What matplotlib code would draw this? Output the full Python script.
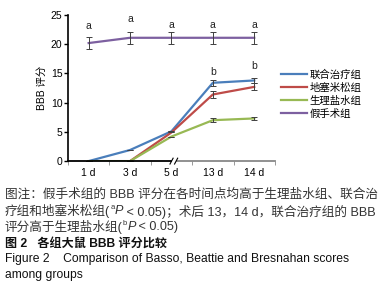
import numpy as np
import matplotlib
matplotlib.use('Agg')
import matplotlib.pyplot as plt

plt.rcParams['font.family'] = ['Liberation Sans', 'Noto Sans CJK SC']

days = ['1 d', '3 d', '5 d', '13 d', '14 d']
groups = ['联合治疗组', '地塞米松组', '生理盐水组', '假手术组']
colors = ['#4a7ebb', '#be4b48', '#98b954', '#7d60a0']

combined = [0, 1.9, 5.1, 13.4, 13.8]
dex = [0, 0, 4.9, 11.4, 12.7]
saline = [0, 0, 4.2, 7.0, 7.3]
sham = [20.2, 21.1, 21.1, 21.1, 21.1]
combined_err = [0, 0, 0, 0.5, 0.5]
dex_err = [0, 0, 0, 0.6, 0.6]
saline_err = [0, 0, 0, 0.3, 0.3]
sham_err = [1.0, 1.0, 1.0, 1.0, 1.0]

a_marks_y = [23.1, 24.3, 23.3, 23.3, 23.3]
b_marks_y = [None, None, None, 15.3, 16.3]

fig = plt.figure(figsize=(3.84, 3.0), dpi=100)
ax = fig.add_axes([0.177, 0.463, 0.539, 0.487])

x = np.arange(len(days))
series = [(combined, combined_err), (dex, dex_err), (saline, saline_err), (sham, sham_err)]
for (vals, err), c, lab in zip(series, colors, groups):
    ax.plot(x, vals, color=c, lw=1.6, label=lab, zorder=3)
    ax.errorbar(x, vals, yerr=err, fmt='none', ecolor='#404040', elinewidth=0.7,
                capsize=2, capthick=0.7, zorder=4)

for xi, yv in zip(x, a_marks_y):
    ax.text(xi, yv, 'a', ha='center', va='center', fontsize=7.5, color='#222222')
for xi, yv in zip(x, b_marks_y):
    if yv is not None:
        ax.text(xi, yv, 'b', ha='center', va='center', fontsize=7.5, color='#222222')

ax.set_xlim(-0.5, 4.5)
ax.set_ylim(0, 25)
ax.set_yticks([0, 5, 10, 15, 20, 25])
ax.set_xticks(x)
ax.set_xticklabels(days)
ax.set_xticks(np.arange(-0.5, 5, 1), minor=True)
ax.tick_params(axis='x', which='major', length=0, labelsize=7.5, pad=5)
ax.tick_params(axis='x', which='minor', length=3, color='#888888', width=0.6)
ax.tick_params(axis='y', length=3, width=1, labelsize=7.5, pad=1)
ax.set_ylabel('BBB 评分', fontsize=7.5, labelpad=3)
for s in ['top', 'right', 'bottom']:
    ax.spines[s].set_visible(False)
ax.spines['left'].set_linewidth(1.2)

# bottom axis with break: black before, gray after
ax.plot([0, 0.497], [0, 0], transform=ax.transAxes, color='black', lw=1.3,
        clip_on=False, zorder=5)
ax.plot([0.525, 1], [0, 0], transform=ax.transAxes, color='#888888', lw=1.3,
        clip_on=False, zorder=5)
for dx in (0.0, 0.022):
    ax.plot([0.493 + dx, 0.508 + dx], [-0.02, 0.02], transform=ax.transAxes,
            color='black', lw=0.8, clip_on=False, zorder=5)

ax.legend(loc='upper left', bbox_to_anchor=(1.0, 0.67), frameon=False,
          fontsize=7.5, handlelength=2.5, handletextpad=0.25, labelspacing=0.28,
          borderaxespad=0.2)


def rich(fig, x0, y0, pieces, size, color):
    # draw text pieces one after another along a line
    r = fig.canvas.get_renderer()
    xp = x0
    for txt, kind in pieces:
        kw = dict(fontsize=size, color=color, va='center', ha='left')
        yy = y0
        if kind == 'sup':
            kw['fontsize'] = size * 0.6
            yy = y0 + 0.012
        elif kind == 'it':
            kw['style'] = 'italic'
        t = fig.text(xp, yy, txt, **kw)
        bb = t.get_window_extent(renderer=r)
        xp = fig.transFigure.inverted().transform((bb.x1, 0))[0]


fs = 8.7
fs_cn = 9.1
gray = '#333333'
fig.text(0.013, 0.35, '图注：假手术组的 BBB 评分在各时间点均高于生理盐水组、联合治',
         fontsize=fs_cn, color=gray, va='center')
rich(fig, 0.013, 0.295, [('疗组和地塞米松组(', 'n'), ('a', 'sup'), ('P', 'it'),
                         (' < 0.05)；术后 13，14 d，联合治疗组的 BBB', 'n')], fs_cn, gray)
rich(fig, 0.013, 0.242, [('评分高于生理盐水组(', 'n'), ('b', 'sup'), ('P', 'it'),
                         (' < 0.05)', 'n')], fs_cn, gray)
fig.text(0.013, 0.188, '图 2   各组大鼠 BBB 评分比较', fontsize=fs, color='#111111',
         va='center', fontweight='bold')
fig.text(0.013, 0.137, 'Figure 2    Comparison of Basso, Beattie and Bresnahan scores',
         fontsize=fs, color='#111111', va='center')
fig.text(0.013, 0.083, 'among groups', fontsize=fs, color='#111111', va='center')

fig.savefig('out.png', dpi=100)
